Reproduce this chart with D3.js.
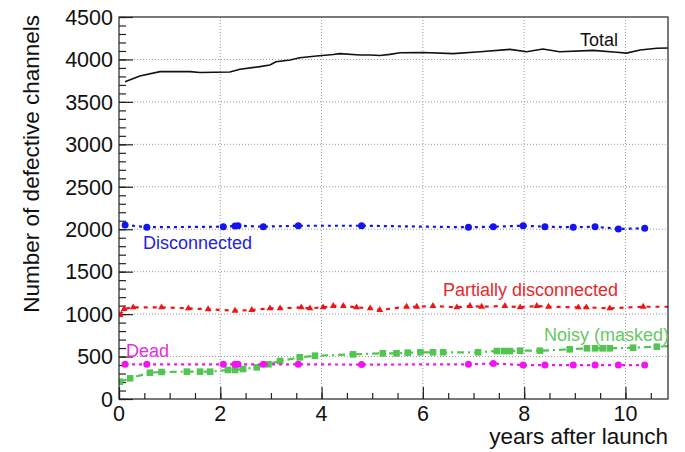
<!DOCTYPE html>
<html><head><meta charset="utf-8">
<script src="https://cdn.jsdelivr.net/npm/d3@7"></script>
<style>body{margin:0;background:#fff}svg{display:block}text{font-family:"Liberation Sans",Arial,sans-serif}</style>
</head><body><svg id="c" width="685" height="452"></svg>
<script>
const xTicks = [0,2,4,6,8,10];
const yTicks = [0,500,1000,1500,2000,2500,3000,3500,4000,4500];

const totalYears  = [0.12,0.41,0.81,1.4,1.6,2.19,2.39,2.78,2.98,3.1,3.38,3.57,3.9,4.23,4.36,4.76,4.96,5.15,5.35,5.55,6.0,6.6,7.13,7.72,8.05,8.37,8.7,9.36,9.83,10.02,10.29,10.62,10.84];
const totalValues = [3738,3805,3856,3856,3846,3852,3884,3915,3935,3973,3993,4020,4040,4058,4068,4052,4052,4046,4060,4078,4082,4068,4091,4119,4091,4123,4091,4107,4084,4075,4111,4131,4135];

const discYears  = [0.12,0.55,2.06,2.29,2.35,2.85,3.54,4.79,6.9,7.39,7.98,8.41,8.97,9.4,9.86,10.38];
const discValues = [2050,2023,2030,2038,2041,2030,2041,2041,2023,2030,2041,2030,2023,2030,2003,2011];

const deadYears  = [0.12,0.55,2.06,2.29,2.35,2.85,3.54,4.79,6.9,7.39,7.98,8.41,8.97,9.4,9.86,10.38];
const deadValues = [409,409,409,409,409,409,409,405,409,418,400,400,400,400,400,400];

const partYears  = [0.02,0.1,0.28,0.84,1.37,1.76,2.29,2.62,2.98,3.18,3.6,3.77,4.03,4.23,4.43,4.69,4.96,5.15,5.68,5.88,6.2,6.67,6.93,7.16,7.62,7.92,8.25,8.48,9.07,9.23,9.69,10.35,10.84];
const partValues = [990,1060,1080,1080,1068,1057,1040,1048,1068,1068,1080,1068,1080,1096,1096,1080,1068,1048,1087,1087,1096,1080,1096,1087,1096,1080,1096,1087,1080,1080,1068,1087,1087];

const noisyYears  = [0.02,0.22,0.61,0.84,1.34,1.6,1.8,2.15,2.29,2.45,2.72,2.95,3.18,3.57,3.87,4.62,5.21,5.48,5.7,5.95,6.2,6.4,7.09,7.46,7.6,7.72,7.92,8.31,8.9,9.24,9.4,9.55,9.69,10.15,10.62,10.84];
const noisyValues = [204,244,310,318,322,322,322,342,342,353,373,409,448,491,510,526,538,538,546,550,550,550,550,565,565,565,569,569,585,597,597,597,597,604,616,623];

const labels = ["Total","Disconnected","Partially disconnected","Dead","Noisy (masked)"];

const svg = d3.select("#c");
const L=119, R=668, T=17, B=399;
const x = d3.scaleLinear().domain([0,10.84]).range([L,R]);
const y = d3.scaleLinear().domain([0,4500]).range([B,T]);

// grid
const g = svg.append("g");
g.selectAll(".gx").data(xTicks.filter(d=>d>0)).join("line")
  .attr("x1",d=>x(d)).attr("x2",d=>x(d)).attr("y1",T).attr("y2",B)
  .attr("stroke","#9a9a9a").attr("stroke-dasharray","1,2").attr("stroke-width",1);
g.selectAll(".gy").data(yTicks.filter(d=>d>0&&d<4500)).join("line")
  .attr("y1",d=>y(d)).attr("y2",d=>y(d)).attr("x1",L).attr("x2",R)
  .attr("stroke","#9a9a9a").attr("stroke-dasharray","1,2").attr("stroke-width",1);

// axes with inside ticks
const yMinor = d3.range(0,4501,100);
const xMinor = d3.range(0,10.84,0.5);
svg.append("g").attr("transform",`translate(${L},0)`)
  .call(d3.axisRight(y).tickValues(yMinor).tickSize(7).tickFormat(""))
  .call(a=>a.select(".domain").remove());
svg.append("g").attr("transform",`translate(${L},0)`)
  .call(d3.axisRight(y).tickValues(yTicks).tickSize(14).tickFormat(""))
  .call(a=>a.select(".domain").remove());
svg.append("g").attr("transform",`translate(0,${B})`)
  .call(d3.axisTop(x).tickValues(xMinor).tickSize(6).tickFormat(""))
  .call(a=>a.select(".domain").remove());
svg.append("g").attr("transform",`translate(0,${B})`)
  .call(d3.axisTop(x).tickValues(xTicks).tickSize(12).tickFormat(""))
  .call(a=>a.select(".domain").remove());
svg.selectAll(".tick line").attr("stroke","#222").attr("stroke-width",1.2);

// tick labels
svg.append("g").selectAll("text").data(yTicks).join("text")
  .attr("x",L-6).attr("y",d=>y(d)).attr("dy","0.36em").attr("text-anchor","end")
  .attr("font-size",21.5).attr("fill","#111").text(d=>d);
svg.append("g").selectAll("text").data(xTicks).join("text")
  .attr("x",d=>x(d)).attr("y",B+22).attr("text-anchor","middle")
  .attr("font-size",21.5).attr("fill","#111").text(d=>d);

// axis titles
svg.append("text").attr("transform",`translate(39,${T-2}) rotate(-90)`)
  .attr("text-anchor","end").attr("font-size",22.5).attr("fill","#111").text("Number of defective channels");
svg.append("text").attr("x",R).attr("y",444).attr("text-anchor","end")
  .attr("font-size",22.5).attr("fill","#111").text("years after launch");

// series
const line = d3.line().x(d=>x(d[0])).y(d=>y(d[1]));
const zip = (a,b)=>a.map((v,i)=>[v,b[i]]);
svg.append("clipPath").attr("id","pc").append("rect").attr("x",L).attr("y",T).attr("width",R-L).attr("height",B-T);
const plot = svg.append("g").attr("clip-path","url(#pc)");

const total = zip(totalYears,totalValues);
const disc = zip(discYears,discValues);
const dead = zip(deadYears,deadValues);
const part = zip(partYears,partValues);
const noisy = zip(noisyYears,noisyValues);

const cBlue="#1414f0", cRed="#f01414", cMag="#f014f0", cGreen="#52c452";

plot.append("path").datum(noisy).attr("d",line).attr("fill","none").attr("stroke",cGreen).attr("stroke-width",2.2).attr("stroke-dasharray","7,4,2,4");
plot.selectAll(".nq").data(noisy.slice(0,-1)).join("rect")
  .attr("x",d=>x(d[0])-3.3).attr("y",d=>y(d[1])-3.3).attr("width",6.6).attr("height",6.6).attr("fill",cGreen);

plot.append("path").datum(dead).attr("d",line).attr("fill","none").attr("stroke",cMag).attr("stroke-width",2.2).attr("stroke-dasharray","3,4");
plot.selectAll(".dc").data(dead).join("circle")
  .attr("cx",d=>x(d[0])).attr("cy",d=>y(d[1])).attr("r",3.5).attr("fill",cMag);

plot.append("path").datum(part).attr("d",line).attr("fill","none").attr("stroke",cRed).attr("stroke-width",2.2).attr("stroke-dasharray","4,5");
const tri = d3.symbol().type(d3.symbolTriangle).size(20);
plot.selectAll(".pt").data(part.slice(0,-1)).join("path")
  .attr("d",tri).attr("transform",d=>`translate(${x(d[0])},${y(d[1])})`).attr("fill",cRed);

plot.append("path").datum(disc).attr("d",line).attr("fill","none").attr("stroke",cBlue).attr("stroke-width",2.2).attr("stroke-dasharray","3,4");
plot.selectAll(".bc").data(disc).join("circle")
  .attr("cx",d=>x(d[0])).attr("cy",d=>y(d[1])).attr("r",3.5).attr("fill",cBlue);

plot.append("path").datum(total).attr("d",line).attr("fill","none").attr("stroke","#111").attr("stroke-width",1.6);

// frame
svg.append("rect").attr("x",L).attr("y",T).attr("width",R-L).attr("height",B-T)
  .attr("fill","none").attr("stroke","#222").attr("stroke-width",1.2);

// series labels
const lab = [
  {t:labels[0],x:580,y:46,c:"#111"},
  {t:labels[1],x:143,y:249,c:"#2222e0"},
  {t:labels[2],x:443,y:296,c:"#e82828"},
  {t:labels[3],x:126,y:357,c:"#e030e0"},
  {t:labels[4],x:544,y:341,c:"#66c866"}
];
svg.append("g").selectAll("text").data(lab).join("text")
  .attr("x",d=>d.x).attr("y",d=>d.y).attr("font-size",18).attr("fill",d=>d.c).text(d=>d.t);
</script></body></html>
